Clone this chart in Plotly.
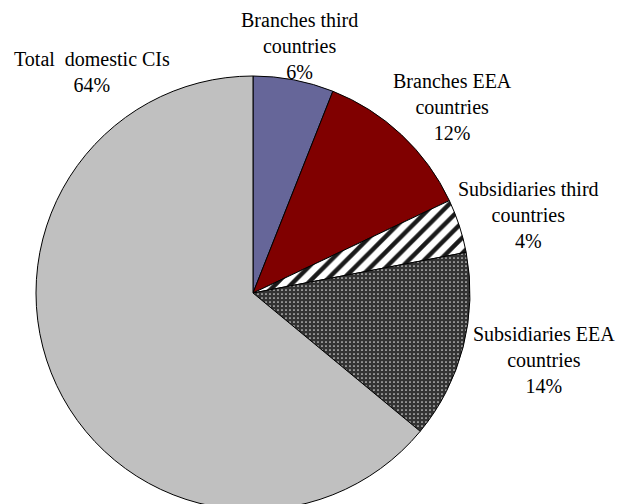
import plotly.graph_objects as go

# Shares of total assets by type of credit institution
categories = [
    "Branches third<br>countries",
    "Branches EEA<br>countries",
    "Subsidiaries third<br>countries",
    "Subsidiaries EEA<br>countries",
    "Total  domestic CIs",
]
shares = [6, 12, 4, 14, 64]

fills = ["#666699", "#800000", "#ffffff", "#333333", "#c0c0c0"]
pattern_shapes = ["", "", "/", ".", ""]
pattern_fg = ["#000000", "#000000", "#1a1a1a", "#d9d9d9", "#000000"]
pattern_size = [8, 8, 11, 4, 8]
pattern_solidity = [0.3, 0.3, 0.4, 0.15, 0.3]

# label anchor points (paper coordinates)
label_x = [0.486, 0.734, 0.856, 0.882, 0.149]
label_y = [0.910, 0.790, 0.578, 0.295, 0.859]

W, H = 617, 510

fig = go.Figure(
    go.Pie(
        values=shares,
        labels=[c.replace("<br>", " ") for c in categories],
        sort=False,
        direction="clockwise",
        rotation=0,
        textinfo="none",
        hoverinfo="none",
        showlegend=False,
        marker=dict(
            colors=fills,
            line=dict(color="#000000", width=1),
            pattern=dict(
                shape=pattern_shapes,
                fgcolor=pattern_fg,
                bgcolor=fills,
                size=pattern_size,
                solidity=pattern_solidity,
                fillmode="replace",
            ),
        ),
        domain=dict(x=[36 / W, 470 / W], y=[0.0, 434 / H]),
    )
)

for cat, val, x, y in zip(categories, shares, label_x, label_y):
    fig.add_annotation(
        text=f"{cat}<br>{val}%",
        x=x,
        y=y,
        xref="paper",
        yref="paper",
        xanchor="center",
        yanchor="middle",
        showarrow=False,
        align="center",
        font=dict(family="Liberation Serif", size=20, color="#000000"),
    )

fig.update_layout(
    width=W,
    height=H,
    margin=dict(l=0, r=0, t=0, b=0),
    paper_bgcolor="#ffffff",
    plot_bgcolor="#ffffff",
)

fig.write_html(
    "out.html",
    post_script="document.documentElement.style.overflow='hidden';document.body.style.overflow='hidden';document.body.style.margin='0';",
)
